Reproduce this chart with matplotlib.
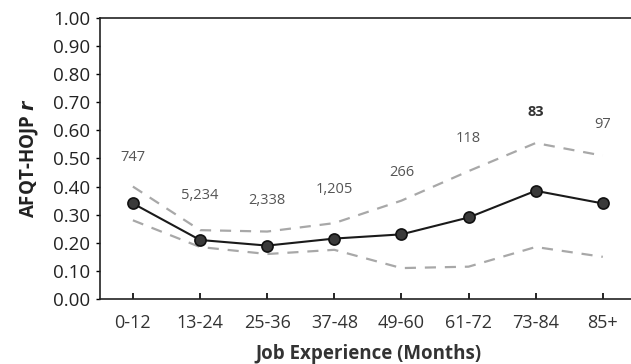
import matplotlib
matplotlib.use("Agg")
import matplotlib.pyplot as plt

categories = ["0-12", "13-24", "25-36", "37-48", "49-60", "61-72", "73-84", "85+"]
r_values = [0.34, 0.21, 0.19, 0.215, 0.23, 0.29, 0.385, 0.34]
upper_ci = [0.40, 0.245, 0.24, 0.27, 0.35, 0.455, 0.555, 0.51]
lower_ci = [0.28, 0.185, 0.16, 0.175, 0.11, 0.115, 0.185, 0.15]
n_labels = ["747", "5,234", "2,338", "1,205", "266", "118", "83", "97"]
n_label_y = [0.505, 0.37, 0.35, 0.39, 0.45, 0.57, 0.665, 0.62]
yticks = [0.0, 0.1, 0.2, 0.3, 0.4, 0.5, 0.6, 0.7, 0.8, 0.9, 1.0]

plt.rcParams['font.family'] = ['Open Sans', 'DejaVu Sans']

fig = plt.figure(figsize=(6.31, 3.64), dpi=100)
ax = fig.add_axes([0.1585, 0.1786, 0.8415, 0.772])

x = list(range(len(categories)))
ax.plot(x, upper_ci, color='#a8a8a8', lw=1.6, ls=(0, (5, 4)))
ax.plot(x, lower_ci, color='#a8a8a8', lw=1.6, ls=(0, (5, 4)))
ax.plot(x, r_values, color='#1a1a1a', lw=1.5, marker='o', markersize=8,
        markerfacecolor='#3a3a3a', markeredgecolor='#111111', markeredgewidth=1.2)

for xi, lab, yy in zip(x, n_labels, n_label_y):
    bold = lab == "83"
    ax.text(xi, yy, lab, ha='center', va='center', fontsize=10.5,
            color='#333333' if bold else '#555555',
            fontweight='bold' if bold else 'normal')

ax.set_xlim(-0.49, 7.42)
ax.set_ylim(0, 1.0)
ax.set_xticks(x)
ax.set_xticklabels(categories, fontsize=13, color='#333333')
ax.set_yticks(yticks)
ax.set_yticklabels([f"{v:.2f}" for v in yticks], fontsize=13.5, color='#222222')
ax.tick_params(axis='x', direction='in', length=4, width=1.2, pad=11)
ax.tick_params(axis='y', direction='out', length=3, width=1, pad=4)
ax.spines['right'].set_visible(False)
for s in ['left', 'bottom', 'top']:
    ax.spines[s].set_linewidth(1.2)
    ax.spines[s].set_color('#222222')

ax.set_xlabel("Job Experience (Months)", fontsize=13.5, fontweight='bold',
              color='#333333', va='center')
ax.xaxis.set_label_coords(0.505, -0.195)
ax.set_ylabel(r"AFQT-HOJP $\mathbfit{r}$", fontsize=13.5, fontweight='bold',
              color='#222222', labelpad=9)

fig.savefig("out.png", dpi=100)
